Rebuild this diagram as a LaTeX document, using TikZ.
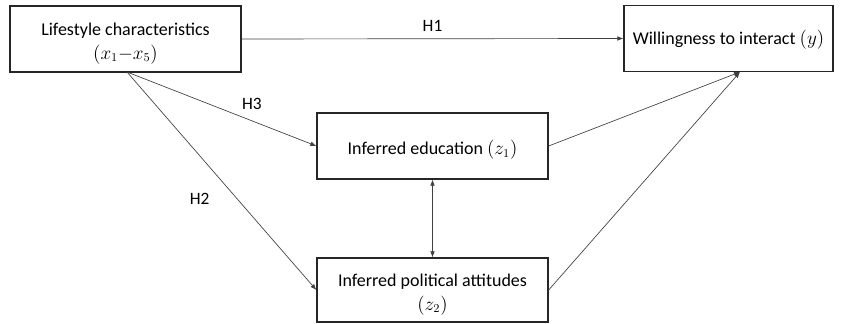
\documentclass[tikz,border=0pt]{standalone}
\usepackage{fontspec}
\setmainfont{Carlito}
\usetikzlibrary{arrows.meta}
\begin{document}
\begin{tikzpicture}[x=0.75pt,y=-0.75pt,
  box/.style={draw=black!85,line width=1pt,inner sep=0pt},
  txt/.style={inner sep=0pt,font=\fontsize{13.5}{17.5}\selectfont,align=center},
  link/.style={draw=black!75,line width=0.5pt,-{Latex[length=4.5pt,width=3.5pt]}},
  hlab/.style={font=\fontsize{13}{15}\selectfont}]
\useasboundingbox (0,0) rectangle (845,324);
\node[box,minimum width=231*0.75pt,minimum height=66*0.75pt] (A) at (125.5,39) {};
\node[box,minimum width=209*0.75pt,minimum height=66*0.75pt] (Y) at (728.5,38.5) {};
\node[box,minimum width=231*0.75pt,minimum height=66*0.75pt] (Z1) at (432.5,146) {};
\node[box,minimum width=231*0.75pt,minimum height=64*0.75pt] (Z2) at (432.5,290) {};
\node[txt] (At) at (125.5,43.5) {Lifestyle characteristics\\$(x_1{-}x_5)$};
\node[txt] (Yt) at (728.5,40) {Willingness to interact $(y)$};
\node[txt] (Z1t) at (432.5,149.5) {Inferred education $(z_1)$};
\node[txt] (Z2t) at (432.5,294.5) {Inferred political attitudes\\$(z_2)$};
\coordinate (As) at (127,72);
\coordinate (Ys) at (740,72);
\draw[link] (A.east) -- (Y.west) node[hlab,midway,above=2pt] {H1};
\draw[link] (As) -- (Z1.west) node[hlab,pos=0.66,above=5pt] {H3};
\draw[link] (As) -- (Z2.west) node[hlab,pos=0.58,left=17pt] {H2};
\draw[link] (Z1.east) -- (Ys);
\draw[link] (Z2.east) -- (Ys);
\draw[link,{Latex[length=4.5pt,width=3.5pt]}-{Latex[length=4.5pt,width=3.5pt]}] (Z1.south) -- (Z2.north);
\end{tikzpicture}
\end{document}
